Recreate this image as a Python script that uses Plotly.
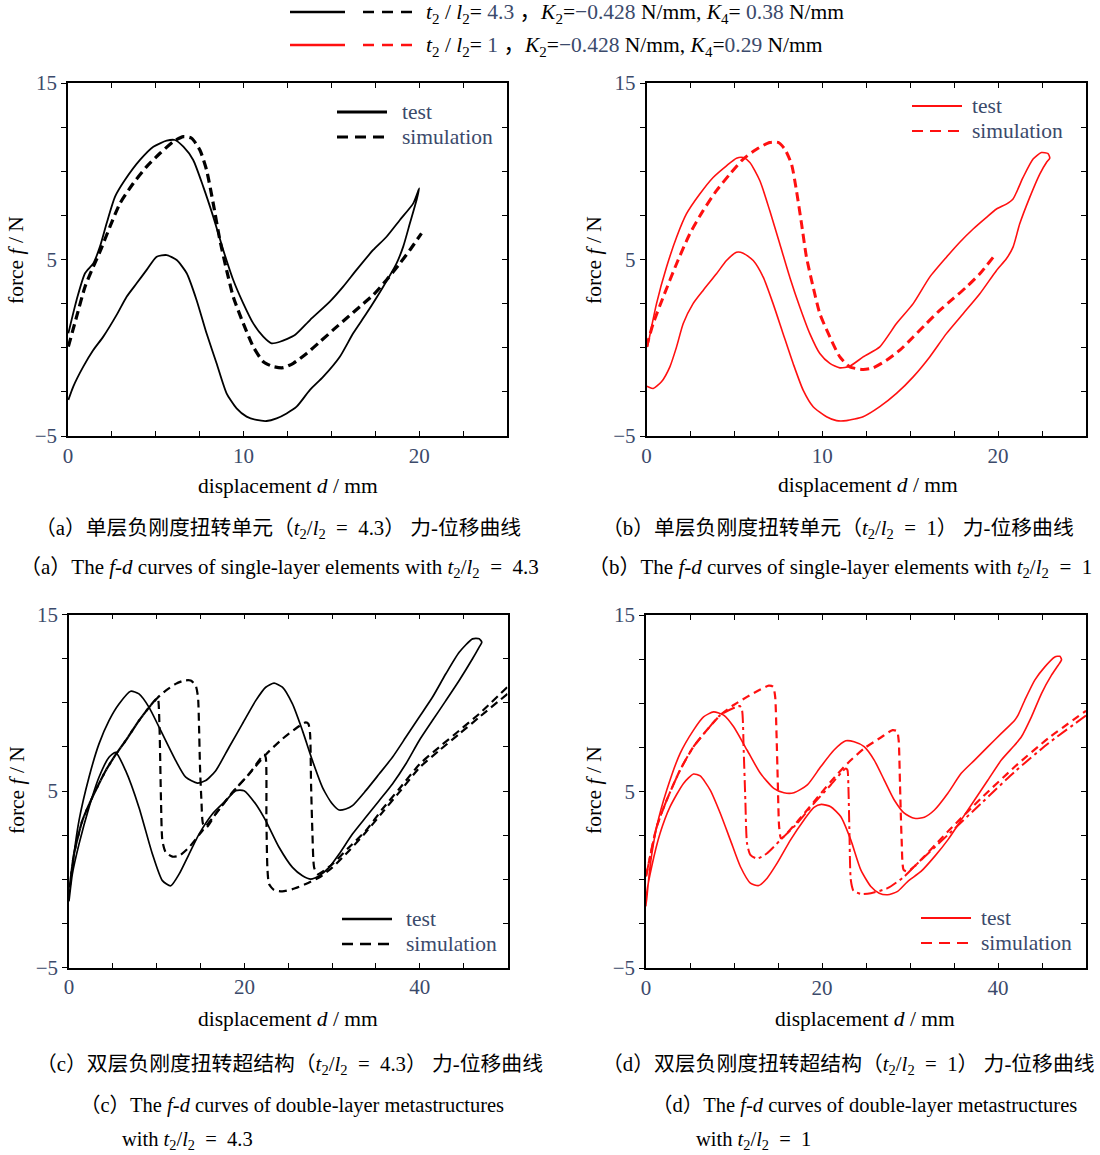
import plotly.graph_objects as go

W, H = 1100, 1155
SERIF = "Liberation Serif, Noto Sans CJK SC"
TICKCOL = "#3b4a6b"
RED = "#ff1010"

# ---------------- data ----------------
a_test_x = [0.02,0.49,0.97,1.44,1.82,2.20,2.68,3.24,4.10,4.86,5.62,6.09,6.57,7.13,7.70,8.27,8.84,9.41,9.98,10.55,
            11.12,11.59,12.07,12.92,13.78,14.91,15.67,16.43,17.38,18.14,18.90,19.66,20.0,
            19.85,19.47,19.09,18.71,17.95,17.00,16.24,15.48,14.54,13.78,13.02,12.45,11.88,11.31,10.74,10.17,9.60,9.03,
            8.46,7.89,7.32,6.76,6.19,5.62,5.05,4.48,3.91,3.34,2.77,2.01,1.44,0.87,0.30,0.02]
a_test_y = [0.82,2.71,4.22,4.78,5.73,7.05,8.56,9.50,10.64,11.39,11.73,11.77,11.39,10.64,9.13,7.43,5.54,3.84,2.52,1.38,
            0.63,0.25,0.34,0.72,1.57,2.61,3.46,4.41,5.54,6.29,7.24,8.18,9.03,
            8.37,7.05,5.73,4.78,3.46,1.95,0.82,-0.51,-1.64,-2.39,-3.34,-3.72,-4.0,-4.15,-4.09,-3.90,-3.43,-2.58,
            -0.88,0.82,2.71,4.22,4.97,5.25,5.16,4.41,3.65,2.89,1.86,0.63,-0.13,-1.07,-2.20,-2.96]
a_sim_x = [0.02,0.49,0.97,1.44,1.82,2.39,2.96,3.72,4.48,5.24,6.0,6.57,7.04,7.51,7.89,8.27,8.65,9.03,9.41,9.98,
           10.55,11.12,11.69,12.26,12.83,13.59,14.35,15.10,15.86,16.62,17.38,18.14,18.90,19.47,20.13]
a_sim_y = [0.06,1.76,3.46,4.59,5.44,6.86,8.18,9.32,10.26,11.02,11.68,11.96,11.87,11.2,10.07,8.18,6.10,4.41,2.89,1.38,
           0.06,-0.79,-1.07,-1.13,-0.88,-0.32,0.34,1.01,1.67,2.33,2.99,3.84,4.78,5.54,6.48]

b_test_x = [0.06,0.57,1.14,1.71,2.27,3.03,3.79,4.55,5.12,5.50,5.88,6.45,7.01,7.58,8.15,8.72,9.29,9.86,10.43,11.0,
            11.56,12.32,13.27,14.22,15.17,16.11,17.06,17.82,18.58,19.34,19.91,20.47,20.85,21.42,21.99,22.46,22.84,22.94,
            22.75,22.37,21.80,21.23,20.85,20.47,19.91,18.96,18.01,17.06,16.11,15.17,14.22,13.27,12.32,11.37,10.81,10.24,
            9.48,8.91,8.34,7.77,7.20,6.64,6.07,5.50,5.12,4.55,3.98,3.22,2.65,2.09,1.71,1.33,0.85,0.38,0.09,0.0]
b_test_y = [0.05,2.50,4.57,6.26,7.58,8.71,9.65,10.31,10.74,10.78,10.50,9.46,7.77,5.89,4.0,2.31,0.80,-0.33,-0.89,-1.14,
            -1.05,-0.52,0.05,1.37,2.50,4.0,5.13,5.98,6.73,7.39,7.86,8.14,8.43,9.65,10.69,11.06,11.0,10.74,
            10.50,9.84,8.52,7.02,5.70,5.04,4.38,3.06,1.93,0.80,-0.52,-1.65,-2.59,-3.34,-3.91,-4.13,-4.13,-3.91,
            -3.34,-2.40,-0.89,0.80,2.50,4.0,4.94,5.36,5.41,4.94,4.19,3.25,2.50,1.37,0.05,-1.08,-1.93,-2.31,-2.21,-2.18]
b_sim_x = [0.0,0.38,0.95,1.71,2.46,3.22,3.98,4.74,5.50,6.26,7.01,7.49,7.87,8.25,8.53,8.82,9.10,9.48,9.86,10.43,
           11.0,11.56,12.32,12.89,13.65,14.41,15.17,15.92,16.68,17.44,18.20,18.96,19.72]
b_sim_y = [0.05,1.37,2.87,4.76,6.45,7.77,8.90,9.84,10.69,11.25,11.63,11.63,11.25,10.40,8.90,7.02,5.13,3.44,1.93,0.61,
           -0.52,-1.08,-1.23,-1.14,-0.71,-0.14,0.61,1.37,2.12,2.78,3.44,4.19,5.13]

c_test_x = [0,0.38,1.14,2.28,3.42,4.56,5.70,7.03,7.98,9.13,10.65,12.17,13.31,14.64,15.59,16.73,18.25,19.77,21.29,22.43,
            23.38,24.33,25.48,26.62,27.76,28.90,30.04,30.80,31.56,32.32,33.84,35.36,36.88,38.40,39.92,41.44,42.97,44.49,
            46.01,46.77,47.07,
            46.77,46.01,44.49,42.97,41.44,39.92,38.40,36.88,35.36,33.84,32.32,30.80,29.66,28.52,27.57,26.62,25.48,23.95,
            22.43,21.29,19.96,19.01,17.87,16.35,14.83,13.69,12.55,11.60,10.65,9.51,7.98,6.46,5.32,4.56,3.42,2.28,1.14,0.38,0]
c_test_y = [-1.22,0.67,3.32,5.78,7.67,8.99,9.93,10.65,10.50,9.74,8.23,6.72,5.78,5.45,5.59,6.15,7.48,8.80,10.12,10.88,
            11.11,10.88,9.93,8.42,6.72,5.21,4.26,3.92,3.98,4.17,5.02,5.96,6.91,8.04,9.18,10.31,11.64,12.86,
            13.62,13.62,13.43,
            13.15,12.49,11.26,10.12,8.99,7.85,6.53,5.40,4.45,3.51,2.56,1.43,0.67,0.20,0.01,0.20,0.67,1.81,
            3.32,4.26,5.02,5.02,4.45,3.70,2.56,1.43,0.29,-0.37,-0.08,1.43,4.07,6.15,7.19,6.91,5.78,4.07,1.99,0.29,-1.22]
c_sim_load_x = [0.08,0.57,1.52,2.66,4.18,5.32,6.46,7.98,9.13,10.08,11.03,12.17,13.12,13.88,14.45,14.71,14.83,14.94,15.10,15.29,
                15.67,16.73,18.63,20.53,22.43,24.33,26.05,27.0,27.30,27.49,27.60,27.76,27.95,28.33,30.04,31.94,33.84,35.74,
                37.64,40.0,42.2,44.49,46.77,50.0]
c_sim_load_y = [-0.46,1.43,3.32,4.64,6.15,7.06,7.85,8.99,9.74,10.27,10.69,11.07,11.26,11.26,10.97,10.31,8.61,6.34,4.45,3.13,
                2.94,3.70,4.92,5.96,7.06,7.95,8.61,8.89,8.80,8.23,5.40,2.56,0.67,0.29,0.86,1.81,2.75,3.98,
                5.11,6.53,7.48,8.42,9.37,10.9]
c_sim_unload_x = [50.0,46.77,44.49,42.2,40.0,37.64,35.74,33.84,31.94,30.04,28.52,27.0,25.48,24.33,23.38,22.81,22.62,22.51,
                  22.43,22.24,20.53,18.63,16.73,15.21,13.69,12.55,11.79,11.03,10.65,10.49,10.34,10.19,10.08,9.13,7.98,
                  6.46,5.32,4.18,2.66,1.52,0.57,0.08]
c_sim_unload_y = [10.5,9.18,8.23,7.29,6.34,4.92,3.79,2.66,1.62,0.67,0.10,-0.27,-0.56,-0.69,-0.61,-0.27,0.67,3.51,
                  6.91,7.06,5.96,4.92,3.70,2.75,1.81,1.33,1.28,1.52,2.18,4.45,8.23,10.12,10.27,9.74,8.99,
                  7.85,7.06,6.15,4.64,3.32,1.43,-0.46]

d_test_x = [0,0.46,1.22,2.36,3.88,5.40,6.54,7.68,8.82,9.96,11.48,13.0,14.52,15.67,16.81,18.33,19.85,21.37,22.70,23.65,
            24.79,25.93,27.07,28.21,29.35,30.49,31.63,32.78,34.30,35.82,37.34,38.86,40.38,41.90,42.28,43.04,44.18,45.32,
            46.46,47.03,47.22,
            46.84,46.08,44.94,43.80,42.66,41.90,40.38,38.86,37.34,35.82,34.30,32.78,31.25,29.73,28.59,27.45,26.50,25.55,
            24.41,23.27,22.13,20.99,19.92,19.09,17.95,16.43,14.90,13.76,12.81,11.86,10.72,9.58,8.44,7.30,6.16,5.40,4.26,
            2.74,1.60,0.65,0.08,0]
d_test_y = [-1.51,0.75,3.01,5.08,7.16,8.48,9.23,9.51,9.33,8.67,7.35,6.03,5.18,4.93,4.93,5.37,6.40,7.35,7.87,7.82,
            7.54,6.78,5.65,4.52,3.77,3.48,3.54,3.95,4.90,6.03,6.78,7.54,8.29,9.04,9.33,10.17,11.31,12.06,
            12.62,12.66,12.47,
            12.15,11.59,10.55,9.23,8.10,7.63,6.78,5.65,4.52,3.39,2.26,1.31,0.47,-0.10,-0.66,-0.85,-0.76,-0.38,
            0.56,2.26,3.58,4.14,4.27,4.10,3.39,2.26,0.94,0.09,-0.33,-0.19,0.75,2.26,3.77,5.08,5.88,5.99,5.46,
            4.14,2.63,0.75,-0.76,-1.51]
d_sim_load_x = [0,0.46,1.22,2.36,3.88,5.40,6.92,8.44,9.96,11.48,13.0,13.95,14.45,14.68,14.83,14.98,15.13,15.36,17.19,19.09,
                20.99,22.89,24.79,26.69,28.02,28.52,28.71,28.86,29.05,29.28,29.73,30.49,34.30,38.10,41.90,45.70,50.0]
d_sim_load_y = [0.18,1.31,3.01,4.52,6.22,7.54,8.48,9.33,9.90,10.36,10.78,11.0,10.93,10.36,8.29,5.46,3.01,2.35,3.29,4.42,
                5.56,6.59,7.44,8.06,8.48,8.42,7.91,5.46,2.26,0.56,0.47,0.75,2.73,4.62,6.40,8.01,9.57]
d_sim_unload_x = [50.0,45.70,41.90,38.10,34.30,30.49,29.35,27.45,25.55,24.41,23.57,23.27,23.12,23.0,22.89,22.7,20.99,19.09,
                  17.19,15.29,13.76,12.62,11.86,11.48,11.29,11.10,10.91,10.65,8.44,6.92,5.40,3.88,2.36,1.22,0.46,0]
d_sim_unload_y = [9.3,7.72,6.12,4.33,2.54,0.75,0.18,-0.48,-0.76,-0.80,-0.61,0.0,2.63,5.27,6.22,6.31,5.37,4.33,
                  3.20,2.26,1.50,1.20,1.41,2.07,4.52,7.35,9.61,9.84,9.33,8.48,7.54,6.22,4.52,3.01,1.31,0.18]

x_ticks_ab = [0, 2.5, 5, 7.5, 10, 12.5, 15, 17.5, 20, 22.5, 25]
x_labels_ab = ["0", "", "", "", "10", "", "", "", "20", "", ""]
x_ticks_cd = [0, 5, 10, 15, 20, 25, 30, 35, 40, 45, 50]
x_labels_cd = ["0", "", "", "", "20", "", "", "", "40", "", ""]
y_ticks = [-5, -2.5, 0, 2.5, 5, 7.5, 10, 12.5, 15]
y_labels = ["\u22125", "", "", "", "5", "", "", "", "15"]

# ---------------- figure ----------------
def px(v):
    return v / W

def py(v):
    return 1 - v / H

panels = [
    dict(xd=(68, 507), yd=(83, 436), xr=[0, 25], tv=x_ticks_ab, tt=x_labels_ab),
    dict(xd=(646.5, 1086), yd=(83, 436), xr=[0, 25], tv=x_ticks_ab, tt=x_labels_ab),
    dict(xd=(69, 507.5), yd=(614.5, 967.5), xr=[0, 50], tv=x_ticks_cd, tt=x_labels_cd),
    dict(xd=(646, 1086), yd=(615, 968), xr=[0, 50], tv=x_ticks_cd, tt=x_labels_cd),
]

fig = go.Figure()
layout = dict(width=W, height=H, margin=dict(l=0, r=0, t=0, b=0, autoexpand=False), showlegend=False,
              plot_bgcolor="white", paper_bgcolor="white")

tickfont = dict(family=SERIF, size=21, color=TICKCOL)
for i, p in enumerate(panels, start=1):
    xs = "" if i == 1 else str(i)
    layout["xaxis" + xs] = dict(domain=[px(p["xd"][0]), px(p["xd"][1])], range=p["xr"], anchor="y" + xs,
                                tickmode="array", tickvals=p["tv"], ticktext=p["tt"], ticks="inside",
                                ticklen=5, tickwidth=1.3, tickcolor="black", showline=True, linecolor="black",
                                linewidth=1.5, mirror="ticks", showgrid=False, zeroline=False, tickfont=tickfont,
                                automargin=False)
    layout["yaxis" + xs] = dict(domain=[py(p["yd"][1]), py(p["yd"][0])], range=[-5, 15], anchor="x" + xs,
                                tickmode="array", tickvals=y_ticks, ticktext=y_labels, ticks="outside",
                                ticklen=5, tickwidth=1.3, tickcolor="black", showline=True, linecolor="black",
                                linewidth=1.5, mirror=True, showgrid=False, zeroline=False, tickfont=tickfont,
                                automargin=False)
    layout["yaxis" + str(i + 4)] = dict(overlaying="y" + xs, side="right", anchor="x" + xs, range=[-5, 15],
                                       tickmode="array", tickvals=y_ticks, ticks="inside", ticklen=5,
                                       tickwidth=1.3, tickcolor="black", showticklabels=False, showline=False,
                                       showgrid=False, zeroline=False, automargin=False)
    fig.add_trace(go.Scatter(x=[None], y=[None], xaxis="x" + xs, yaxis="y" + str(i + 4),
                             mode="lines", hoverinfo="skip", showlegend=False))


def line_trace(x, y, color, width, dash, ax):
    xs = "" if ax == 1 else str(ax)
    return go.Scatter(x=x, y=y, mode="lines", xaxis="x" + xs, yaxis="y" + xs,
                      line=dict(color=color, width=width, dash=dash, shape="spline", smoothing=0.6),
                      hoverinfo="skip")

fig.add_trace(line_trace(a_test_x, a_test_y, "black", 1.8, "solid", 1))
fig.add_trace(line_trace(a_sim_x, a_sim_y, "black", 3.2, "9px,5px", 1))
fig.add_trace(line_trace(b_test_x, b_test_y, RED, 1.6, "solid", 2))
fig.add_trace(line_trace(b_sim_x, b_sim_y, RED, 3.0, "9px,5px", 2))
fig.add_trace(line_trace(c_test_x, c_test_y, "black", 1.7, "solid", 3))
fig.add_trace(line_trace(c_sim_load_x, c_sim_load_y, "black", 2.2, "8px,5px", 3))
fig.add_trace(line_trace(c_sim_unload_x, c_sim_unload_y, "black", 2.2, "8px,5px", 3))
fig.add_trace(line_trace(d_test_x, d_test_y, RED, 1.6, "solid", 4))
fig.add_trace(line_trace(d_sim_load_x, d_sim_load_y, RED, 2.2, "8px,5px", 4))
fig.add_trace(line_trace(d_sim_unload_x, d_sim_unload_y, RED, 2.0, "12px,4px,3px,4px", 4))

shapes = []
annotations = []


def hline(x0, x1, y, color, width, dash):
    shapes.append(dict(type="line", xref="paper", yref="paper", x0=px(x0), x1=px(x1), y0=py(y), y1=py(y),
                       line=dict(color=color, width=width, dash=dash)))


def text(s, x, y, size=21.5, color="black", xanchor="center", yanchor="middle", angle=0):
    annotations.append(dict(text=s, x=px(x), y=py(y), xref="paper", yref="paper", showarrow=False,
                            xanchor=xanchor, yanchor=yanchor, textangle=angle,
                            font=dict(family=SERIF, size=size, color=color)))


# top legend
def num(v):
    return "<span style='color:%s'>%s</span>" % (TICKCOL, v)

hline(290, 345, 12, "black", 2.5, "solid")
hline(363, 415, 12, "black", 2.5, "11px,8px")
text("<i>t</i><sub>2</sub> / <i>l</i><sub>2</sub>= " + num("4.3") + " ，<i>K</i><sub>2</sub>=" + num("\u22120.428")
     + " N/mm, <i>K</i><sub>4</sub>= " + num("0.38") + " N/mm", 424, 14, size=21.5, xanchor="left")
hline(290, 345, 45, RED, 2.5, "solid")
hline(363, 415, 45, RED, 2.5, "11px,8px")
text("<i>t</i><sub>2</sub> / <i>l</i><sub>2</sub>= " + num("1") + " ，<i>K</i><sub>2</sub>=" + num("\u22120.428")
     + " N/mm, <i>K</i><sub>4</sub>=" + num("0.29") + " N/mm", 424, 46, size=21.5, xanchor="left")

# in-panel legends
leg = [(337, 387, 112, 137, 400, "black", 3.2), (912, 962, 106, 131, 970, RED, 2.2),
       (342, 392, 919, 944, 404, "black", 2.6), (921, 971, 918, 943, 979, RED, 2.2)]
for x0, x1, y0, y1, tx, col, w in leg:
    hline(x0, x1, y0, col, w, "solid")
    hline(x0, x1, y1, col, w, "11px,7px")
    text("test", tx, y0, color=TICKCOL, xanchor="left")
    text("simulation", tx, y1, color=TICKCOL, xanchor="left")

# axis titles
for ylx, yly, xlx, xly in [(16, 260, 288, 486), (594, 260, 868, 485), (17, 790, 288, 1019), (594, 790, 865, 1019)]:
    text("force <i>f</i> / N", ylx, yly, angle=-90)
    text("displacement <i>d</i> / mm", xlx, xly)

# captions
r = "<i>t</i><sub>2</sub>/<i>l</i><sub>2</sub>  =  "
ZH, EN, EN2 = 20.8, 21, 20.5
text("（a）单层负刚度扭转单元（" + r + "4.3） 力-位移曲线", 278, 529, size=ZH)
text("（a）The <i>f</i>-<i>d</i> curves of single-layer elements with " + r + "4.3", 280, 568, size=EN)
text("（b）单层负刚度扭转单元（" + r + "1） 力-位移曲线", 838, 529, size=ZH)
text("（b）The <i>f</i>-<i>d</i> curves of single-layer elements with " + r + "1", 840, 568, size=EN)
text("（c）双层负刚度扭转超结构（" + r + "4.3） 力-位移曲线", 289, 1065, size=ZH)
text("（c）The <i>f</i>-<i>d</i> curves of double-layer metastructures", 78, 1105, size=EN2, xanchor="left")
text("with " + r + "4.3", 120, 1140, size=EN2, xanchor="left")
text("（d）双层负刚度扭转超结构（" + r + "1） 力-位移曲线", 848, 1065, size=ZH)
text("（d）The <i>f</i>-<i>d</i> curves of double-layer metastructures", 650, 1105, size=EN2, xanchor="left")
text("with " + r + "1", 694, 1140, size=EN2, xanchor="left")

layout["shapes"] = shapes
layout["annotations"] = annotations
fig.update_layout(**layout)
fig.write_html("out.html", config={"displayModeBar": False},
               post_script="document.body.style.margin='0';")
